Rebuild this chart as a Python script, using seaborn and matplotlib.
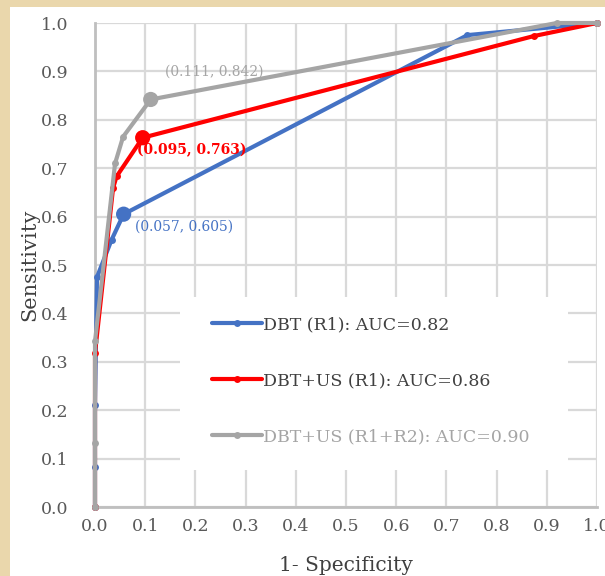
import matplotlib
matplotlib.use("Agg")
import matplotlib.pyplot as plt
import seaborn as sns
import pandas as pd
from matplotlib.patches import Rectangle
from matplotlib.lines import Line2D

# ---- data ----
series_names = ["DBT (R1): AUC=0.82", "DBT+US (R1): AUC=0.86", "DBT+US (R1+R2): AUC=0.90"]
dbt_fpr = [0.0, 0.0, 0.0, 0.004, 0.033, 0.057, 0.742, 1.0]
dbt_tpr = [0.0, 0.083, 0.211, 0.475, 0.552, 0.605, 0.975, 1.0]
dbtus_fpr = [0.0, 0.0, 0.036, 0.043, 0.095, 0.874, 1.0]
dbtus_tpr = [0.0, 0.318, 0.659, 0.683, 0.763, 0.973, 1.0]
dbtus2_fpr = [0.0, 0.0, 0.0, 0.040, 0.056, 0.111, 0.920, 1.0]
dbtus2_tpr = [0.0, 0.132, 0.342, 0.710, 0.765, 0.842, 1.0, 1.0]
hl_fpr = [0.057, 0.095, 0.111]
hl_tpr = [0.605, 0.763, 0.842]
hl_labels = ["(0.057, 0.605)", "(0.095, 0.763)", "(0.111, 0.842)"]
ticks = [0.0, 0.1, 0.2, 0.3, 0.4, 0.5, 0.6, 0.7, 0.8, 0.9, 1.0]

colors = ["#4472C4", "#FF0000", "#A5A5A5"]

sns.set_theme(style="white")
plt.rcParams["font.family"] = ["DejaVu Serif", "DejaVu Sans"]

fig = plt.figure(figsize=(6.05, 5.76), dpi=100)
fig.patch.set_facecolor("#EAD7AC")
fig.add_artist(Rectangle((10 / 605, 0), 1, (576 - 7) / 576, transform=fig.transFigure,
                         facecolor="white", edgecolor="none", zorder=0))
ax = fig.add_axes([95 / 605, (576 - 507) / 576, 502 / 605, 484 / 576])
ax.set_facecolor("white")

frames = [
    pd.DataFrame({"fpr": dbt_fpr, "tpr": dbt_tpr}),
    pd.DataFrame({"fpr": dbtus_fpr, "tpr": dbtus_tpr}),
    pd.DataFrame({"fpr": dbtus2_fpr, "tpr": dbtus2_tpr}),
]
for df, c in zip(frames, colors):
    sns.lineplot(data=df, x="fpr", y="tpr", ax=ax, sort=False, estimator=None,
                 color=c, lw=3, marker="o", markersize=5, markeredgewidth=0,
                 zorder=4, clip_on=False)

hl = pd.DataFrame({"fpr": hl_fpr, "tpr": hl_tpr, "s": series_names})
sns.scatterplot(data=hl, x="fpr", y="tpr", hue="s", palette=colors, s=120,
                linewidth=0, ax=ax, legend=False, zorder=5, clip_on=False)

# annotations
ax.text(0.080, 0.579, hl_labels[0], color="#4472C4", fontsize=10, va="center", ha="left", zorder=6)
ax.text(0.084, 0.738, hl_labels[1], color="#FF0000", fontsize=10, fontweight="bold",
        va="center", ha="left", zorder=6)
ax.text(0.139, 0.899, hl_labels[2], color="#A5A5A5", fontsize=10, va="center", ha="left", zorder=6)

ax.set_xlim(0, 1.0)
ax.set_ylim(0, 1.0)
ax.set_xticks(ticks)
ax.set_yticks(ticks)
ax.set_xticklabels([f"{t:.1f}" for t in ticks])
ax.set_yticklabels([f"{t:.1f}" for t in ticks])
ax.tick_params(axis="both", length=0, labelsize=12.5, colors="#595959")
ax.tick_params(axis="y", pad=19)
ax.tick_params(axis="x", pad=8)
ax.grid(True, color="#D9D9D9", lw=1.6, zorder=0)
ax.set_axisbelow(True)
for s in ["top", "right"]:
    ax.spines[s].set_visible(False)
for s in ["left", "bottom"]:
    ax.spines[s].set_color("#BFBFBF")
    ax.spines[s].set_linewidth(2)
ax.set_xlabel("1- Specificity", fontsize=14.5, color="#404040", labelpad=15)
ax.set_ylabel("Sensitivity", fontsize=15, color="#404040", labelpad=1)

# legend background box
ax.add_patch(Rectangle((0.169, 0.076), 0.773, 0.358, transform=ax.transAxes,
                       facecolor="white", edgecolor="none", zorder=2))
handles = [Line2D([0], [0], color=c, lw=3, marker="o", markersize=5, markeredgewidth=0)
           for c in colors]
leg = ax.legend(handles, series_names, loc="upper left", bbox_to_anchor=(0.205, 0.423),
                frameon=False, fontsize=12.5, handlelength=2.9, handletextpad=0.05,
                labelspacing=2.25, borderpad=0.3)
leg.set_zorder(7)
text_colors = ["#404040", "#404040", "#A5A5A5"]
for t, tc in zip(leg.get_texts(), text_colors):
    t.set_color(tc)

fig.savefig("out.png", dpi=100, facecolor=fig.get_facecolor())
